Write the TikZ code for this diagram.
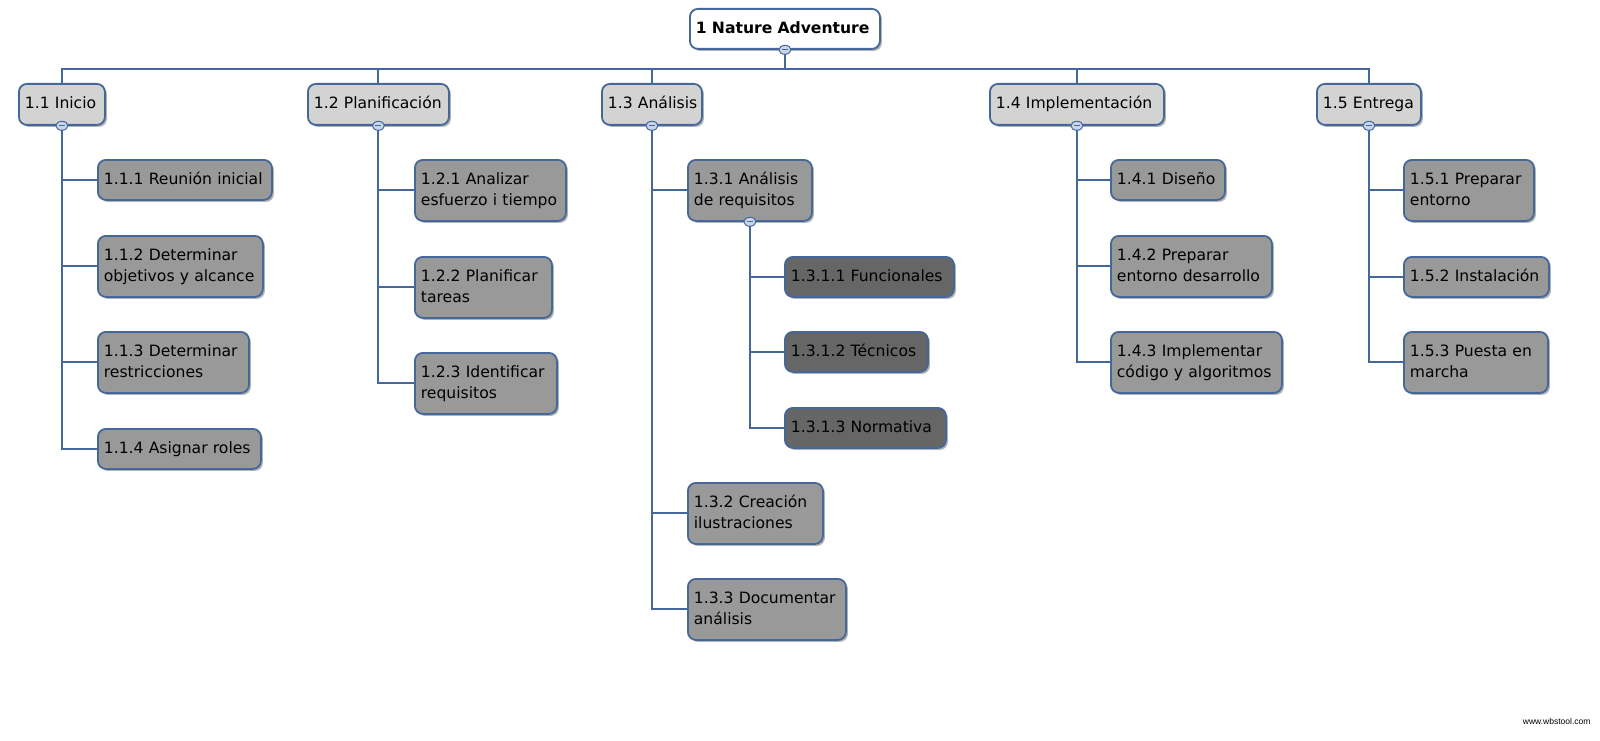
\documentclass[tikz,border=0pt]{standalone}
\usepackage{fontspec}
\setmainfont{DejaVu Sans}
\newfontfamily\wmfont{Liberation Sans}
\usetikzlibrary{shadows,shapes.geometric,backgrounds}
\definecolor{edgeblue}{HTML}{45679A}
\definecolor{lvlone}{HTML}{D3D3D3}
\definecolor{lvltwo}{HTML}{999999}
\definecolor{lvlthree}{HTML}{666666}
\definecolor{knobfill}{HTML}{C9D6E8}
\newcommand\lns[1]{\begin{tabular}{@{}l@{}}#1\end{tabular}}
\begin{document}
\begin{tikzpicture}[x=1pt,y=-1pt,
  every node/.style={font=\fontsize{15.6}{21}\selectfont},
  box/.style={draw=edgeblue, line width=1.8pt, rounded corners=8pt, anchor=north west,
    align=left, inner xsep=6pt, inner ysep=0pt, text=black,
    drop shadow={shadow xshift=2pt, shadow yshift=-2pt, opacity=0.3, fill=black}},
  lone/.style={box, fill=lvlone},
  ltwo/.style={box, fill=lvltwo},
  lthree/.style={box, fill=lvlthree},
  conn/.style={draw=edgeblue, line width=2pt},
  knob/.style={draw=edgeblue, line width=1pt, fill=knobfill, ellipse, minimum width=12pt, minimum height=9pt, inner sep=0pt}
]
\useasboundingbox (0,0) rectangle (1600,741);

% root
\node[box, fill=white, text width=178pt, minimum height=40pt, font=\fontsize{15.6}{21}\selectfont\bfseries] (root) at (689,8) {\lns{1 Nature Adventure}};

% level 1
\node[lone, text width=74pt, minimum height=41pt] (n1) at (18,83) {\lns{1.1 Inicio}};
\node[lone, text width=129pt, minimum height=41pt] (n2) at (307,83) {\lns{1.2 Planificación}};
\node[lone, text width=88pt, minimum height=41pt] (n3) at (601,83) {\lns{1.3 Análisis}};
\node[lone, text width=162pt, minimum height=41pt] (n4) at (989,83) {\lns{1.4 Implementación}};
\node[lone, text width=92pt, minimum height=41pt] (n5) at (1316,83) {\lns{1.5 Entrega}};

% 1.1
\node[ltwo, text width=162pt, minimum height=40pt] (n11) at (97,159) {\lns{1.1.1 Reunión inicial}};
\node[ltwo, text width=153pt, minimum height=61pt] (n12) at (97,235) {\lns{1.1.2 Determinar\\objetivos y alcance}};
\node[ltwo, text width=139pt, minimum height=61pt] (n13) at (97,331) {\lns{1.1.3 Determinar\\restricciones}};
\node[ltwo, text width=151pt, minimum height=40pt] (n14) at (97,428) {\lns{1.1.4 Asignar roles}};

% 1.2
\node[ltwo, text width=139pt, minimum height=61pt] (n21) at (414,159) {\lns{1.2.1 Analizar\\esfuerzo i tiempo}};
\node[ltwo, text width=125pt, minimum height=61pt] (n22) at (414,256) {\lns{1.2.2 Planificar\\tareas}};
\node[ltwo, text width=130pt, minimum height=61pt] (n23) at (414,352) {\lns{1.2.3 Identificar\\requisitos}};

% 1.3
\node[ltwo, text width=112pt, minimum height=61pt] (n31) at (687,159) {\lns{1.3.1 Análisis\\de requisitos}};
\node[lthree, text width=157pt, minimum height=40pt] (n311) at (784,256) {\lns{1.3.1.1 Funcionales}};
\node[lthree, text width=131pt, minimum height=40pt] (n312) at (784,331) {\lns{1.3.1.2 Técnicos}};
\node[lthree, text width=149pt, minimum height=40pt] (n313) at (784,407) {\lns{1.3.1.3 Normativa}};
\node[ltwo, text width=123pt, minimum height=61pt] (n32) at (687,482) {\lns{1.3.2 Creación\\ilustraciones}};
\node[ltwo, text width=146pt, minimum height=61pt] (n33) at (687,578) {\lns{1.3.3 Documentar\\análisis}};

% 1.4
\node[ltwo, text width=102pt, minimum height=40pt] (n41) at (1110,159) {\lns{1.4.1 Diseño}};
\node[ltwo, text width=149pt, minimum height=61pt] (n42) at (1110,235) {\lns{1.4.2 Preparar\\entorno desarrollo}};
\node[ltwo, text width=159pt, minimum height=61pt] (n43) at (1110,331) {\lns{1.4.3 Implementar\\código y algoritmos}};

% 1.5
\node[ltwo, text width=118pt, minimum height=61pt] (n51) at (1403,159) {\lns{1.5.1 Preparar\\entorno}};
\node[ltwo, text width=133pt, minimum height=40pt] (n52) at (1403,256) {\lns{1.5.2 Instalación}};
\node[ltwo, text width=132pt, minimum height=61pt] (n53) at (1403,331) {\lns{1.5.3 Puesta en\\marcha}};

% connectors
\begin{scope}[on background layer]
\foreach \c in {n1,n2,n3,n4,n5} \draw[conn] (root.south) -- ++(0,19) -| (\c.north);
\foreach \c in {n11,n12,n13,n14} \draw[conn] (n1.south) |- (\c.west);
\foreach \c in {n21,n22,n23} \draw[conn] (n2.south) |- (\c.west);
\foreach \c in {n31,n32,n33} \draw[conn] (n3.south) |- (\c.west);
\foreach \c in {n311,n312,n313} \draw[conn] (n31.south) |- (\c.west);
\foreach \c in {n41,n42,n43} \draw[conn] (n4.south) |- (\c.west);
\foreach \c in {n51,n52,n53} \draw[conn] (n5.south) |- (\c.west);
\end{scope}

% knobs
\foreach \p in {root,n1,n2,n3,n4,n5,n31} {
  \node[knob] (k\p) at (\p.south) {};
  \draw[edgeblue, line width=1pt] ([xshift=-3pt]k\p.center) -- ([xshift=3pt]k\p.center);
}

\node[anchor=east, font=\wmfont\fontsize{8.5}{10}\selectfont] (wm) at (1594,721) {www.wbstool.com};
\end{tikzpicture}
\end{document}
